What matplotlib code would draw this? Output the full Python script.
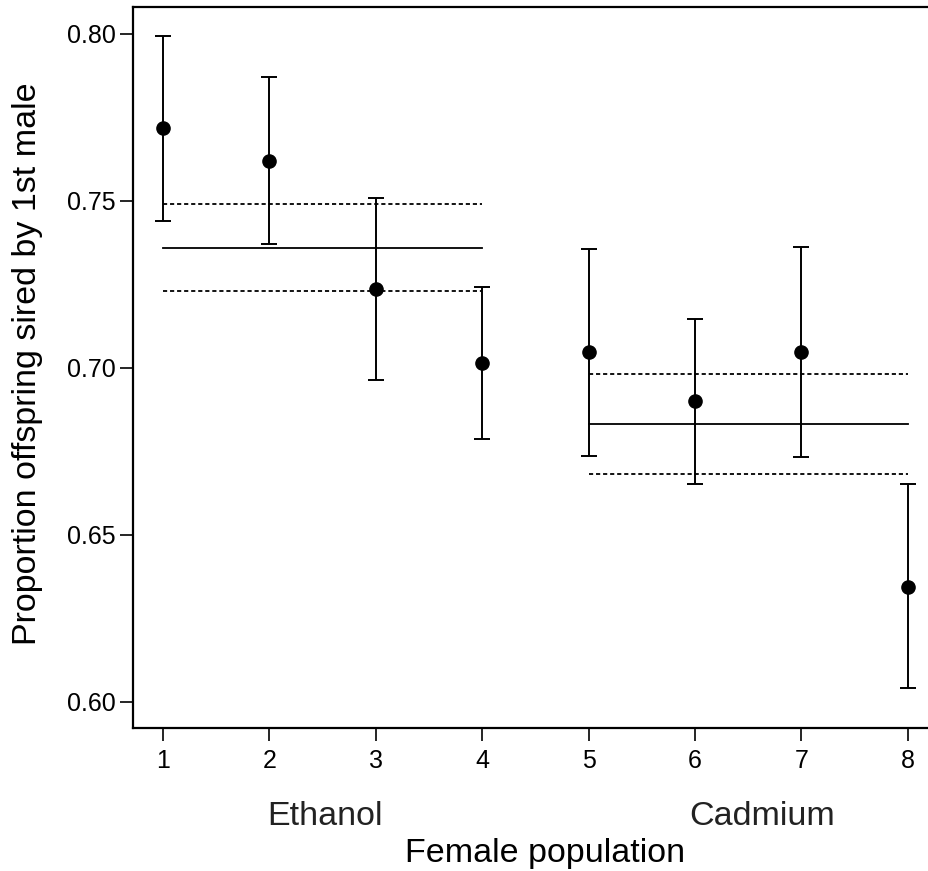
import numpy as np
import matplotlib.pyplot as plt
from matplotlib.transforms import blended_transform_factory

plt.rcParams['font.family'] = ['Liberation Sans', 'DejaVu Sans']

# Data
population = [1, 2, 3, 4, 5, 6, 7, 8]
mean = [0.7717, 0.7620, 0.7235, 0.7013, 0.7048, 0.6900, 0.7048, 0.6344]
upper = [0.7994, 0.7869, 0.7507, 0.7241, 0.7356, 0.7147, 0.7361, 0.6651]
lower = [0.7440, 0.7369, 0.6963, 0.6786, 0.6737, 0.6653, 0.6734, 0.6041]

# Treatment group estimates (mean, upper, lower) and the populations they span
groups = ['Ethanol', 'Cadmium']
group_span = [(1, 4), (5, 8)]
group_mean = [0.7358, 0.6831]
group_upper = [0.7489, 0.6980]
group_lower = [0.7230, 0.6681]
group_label_x = [2.52, 6.63]

mean = np.array(mean)
yerr = [mean - np.array(lower), np.array(upper) - mean]

fig = plt.figure(figsize=(9.29, 8.71), dpi=100)
ax = fig.add_axes([0.1435, 0.1645, 0.8658, 0.8271])

ax.errorbar(population, mean, yerr=yerr, fmt='o', color='black',
            markersize=9.5, elinewidth=1.4, capsize=5.5, capthick=1.4)

for (x0, x1), m, hi, lo in zip(group_span, group_mean, group_upper, group_lower):
    ax.plot([x0, x1], [m, m], color='black', lw=1.3)
    ax.plot([x0, x1], [hi, hi], color='black', lw=1.3, linestyle=(0, (2.3, 1.6)))
    ax.plot([x0, x1], [lo, lo], color='black', lw=1.3, linestyle=(0, (2.3, 1.6)))

ax.set_xlim(0.72, 8.28)
ax.set_ylim(0.5922, 0.8079)
ax.set_xticks(population)
ax.set_yticks([0.60, 0.65, 0.70, 0.75, 0.80])
ax.set_yticklabels(['0.60', '0.65', '0.70', '0.75', '0.80'])
ax.tick_params(axis='both', direction='out', length=9.5, width=1.2, labelsize=18)
ax.tick_params(axis='x', pad=6)
ax.tick_params(axis='y', pad=3)
for s in ax.spines.values():
    s.set_linewidth(1.6)

trans = blended_transform_factory(ax.transData, ax.transAxes)
for name, gx in zip(groups, group_label_x):
    ax.text(gx, -0.135, name, transform=trans, ha='center', va='baseline',
            fontsize=24.5, color='#222222')

ax.text(0.512, -0.186, 'Female population', transform=ax.transAxes,
        ha='center', va='baseline', fontsize=24.5)
ax.text(-0.131, 0.505, 'Proportion offspring sired by 1st male',
        transform=ax.transAxes, rotation=90, ha='center', va='center',
        fontsize=24.5)

fig.savefig('out.png', dpi=100)
